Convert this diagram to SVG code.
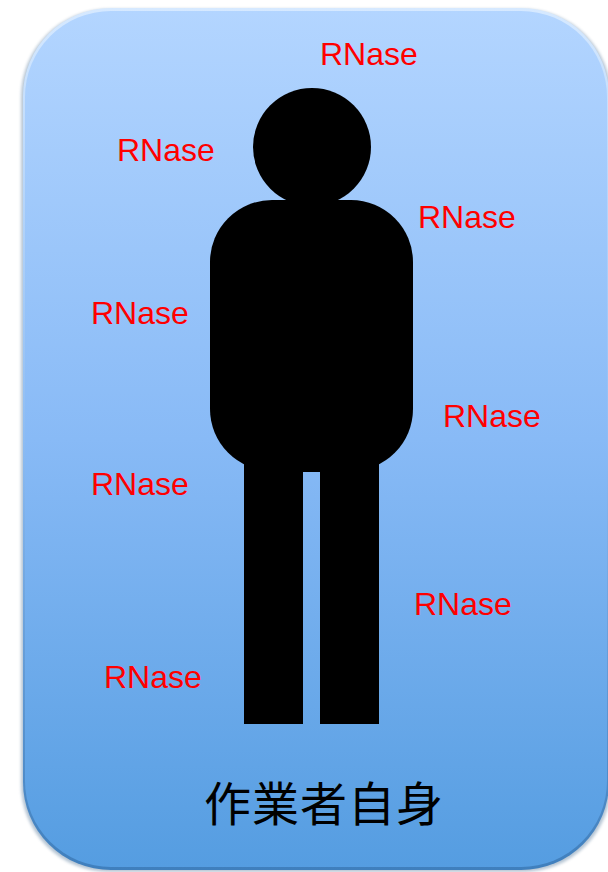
<svg xmlns="http://www.w3.org/2000/svg" width="608" height="872" viewBox="0 0 608 872">
<defs>
<linearGradient id="fill" x1="0" y1="0" x2="0" y2="1">
<stop offset="0" stop-color="#b3d5ff"/>
<stop offset="0.5" stop-color="#88baf6"/>
<stop offset="1" stop-color="#559de1"/>
</linearGradient>
<linearGradient id="edge" x1="0" y1="0" x2="0" y2="1">
<stop offset="0" stop-color="#d6e9ff"/>
<stop offset="0.5" stop-color="#8dbcf2"/>
<stop offset="1" stop-color="#3f7fbd"/>
</linearGradient>
<filter id="soft" x="-5%" y="-5%" width="110%" height="110%"><feGaussianBlur stdDeviation="1.5"/></filter>
</defs>
<style>
.r{font-family:"Liberation Sans",Arial,sans-serif;font-size:32px;fill:#ff0000}
.j{font-family:"Noto Sans CJK JP","Noto Sans CJK SC",sans-serif;font-size:47px;fill:#000;letter-spacing:1px}
.b{fill:#000}
</style>
<g id="panel">
<rect x="21" y="9" width="590" height="863" rx="88" fill="#5d7f9f" opacity="0.45" filter="url(#soft)"/>
<rect x="23" y="8" width="586" height="862" rx="88" fill="url(#edge)"/>
<rect x="25" y="11" width="582" height="856" rx="86" fill="url(#fill)"/>
</g>
<g id="person">
<circle class="b" cx="312" cy="147" r="59"/>
<rect class="b" x="210" y="200" width="203" height="271" rx="62"/>
<rect class="b" x="244" y="440" width="59" height="284"/>
<rect class="b" x="320" y="472" width="59" height="252"/>
<rect class="b" x="244" y="440" width="135" height="32"/>
</g>
<g id="labels">
<text class="r" x="320" y="65">RNase</text>
<text class="r" x="117" y="161">RNase</text>
<text class="r" x="418" y="228">RNase</text>
<text class="r" x="91" y="324">RNase</text>
<text class="r" x="443" y="427">RNase</text>
<text class="r" x="91" y="495">RNase</text>
<text class="r" x="414" y="615">RNase</text>
<text class="r" x="104" y="688">RNase</text>
<text class="j" x="204" y="821">作業者自身</text>
</g>
</svg>
